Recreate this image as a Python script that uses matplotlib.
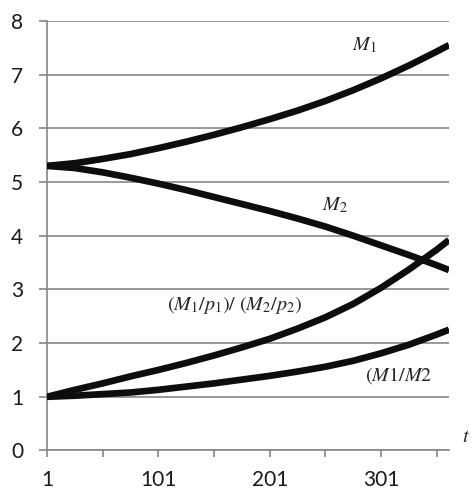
import numpy as np
import matplotlib.pyplot as plt
from matplotlib.ticker import FixedLocator

# time points
t = [1, 26, 51, 76, 101, 126, 151, 176, 201, 226, 251, 276, 301, 326, 351, 362]

m1 = [5.30, 5.35, 5.43, 5.52, 5.63, 5.75, 5.88, 6.02, 6.17, 6.33, 6.51, 6.71, 6.93, 7.17, 7.43, 7.55]
m2 = [5.30, 5.26, 5.18, 5.08, 4.97, 4.85, 4.72, 4.59, 4.46, 4.32, 4.17, 4.00, 3.82, 3.64, 3.45, 3.36]
real_ratio = [1.00, 1.13, 1.25, 1.38, 1.50, 1.63, 1.77, 1.92, 2.08, 2.27, 2.48, 2.73, 3.03, 3.37, 3.74, 3.92]
m_ratio = [1.00, 1.02, 1.05, 1.08, 1.13, 1.19, 1.25, 1.32, 1.39, 1.47, 1.56, 1.67, 1.81, 1.97, 2.16, 2.25]

xticks = [1, 51, 101, 151, 201, 251, 301, 351]
xlabels = ['1', '', '101', '', '201', '', '301', '']

plt.rcParams['mathtext.fontset'] = 'stix'
grey = '#868686'
ink = '#0d0d0d'

fig = plt.figure(figsize=(4.71, 4.98), dpi=100)
ax = fig.add_axes([0.0998, 0.0954, 0.8535, 0.8626])

for y in [m1, m2, real_ratio, m_ratio]:
    ax.plot(t, y, color=ink, lw=4.8, solid_capstyle='butt', solid_joinstyle='round', zorder=3)

ax.set_xlim(1, 362)
ax.set_ylim(0, 8)
ax.set_yticks(range(0, 9))
ax.xaxis.set_major_locator(FixedLocator(xticks))
ax.set_xticklabels(xlabels)

ax.grid(axis='y', color=grey, lw=1.2)
ax.set_axisbelow(True)
for s in ['top', 'right']:
    ax.spines[s].set_visible(False)
for s in ['left', 'bottom']:
    ax.spines[s].set_color(grey)
    ax.spines[s].set_linewidth(1.2)

ax.tick_params(axis='y', length=6, width=1.2, color=grey, pad=11,
               labelsize=15, labelcolor='#1a1a1a')
ax.tick_params(axis='x', length=5, width=1.2, color=grey, pad=9,
               labelsize=15, labelcolor='#1a1a1a')
for lab in ax.get_xticklabels() + ax.get_yticklabels():
    lab.set_fontfamily('Lato')

txt = dict(fontsize=14.5, color='#262626', family='Liberation Serif', va='baseline')
ax.text(275, 7.46, r'$M_{\mathit{1}}$', **txt)
ax.text(248, 4.47, r'$M_{\mathit{2}}$', **txt)
ax.text(109, 2.62, r'$(M_{\mathit{1}}/p_{\mathit{1}})/\ (M_{\mathit{2}}/p_{\mathit{2}})$', **txt)
ax.text(287, 1.30, r'$(M1/M2$', **txt)
ax.text(373.5, 0.15, r'$t$', clip_on=False, **txt)

fig.savefig('out.png', dpi=100)
